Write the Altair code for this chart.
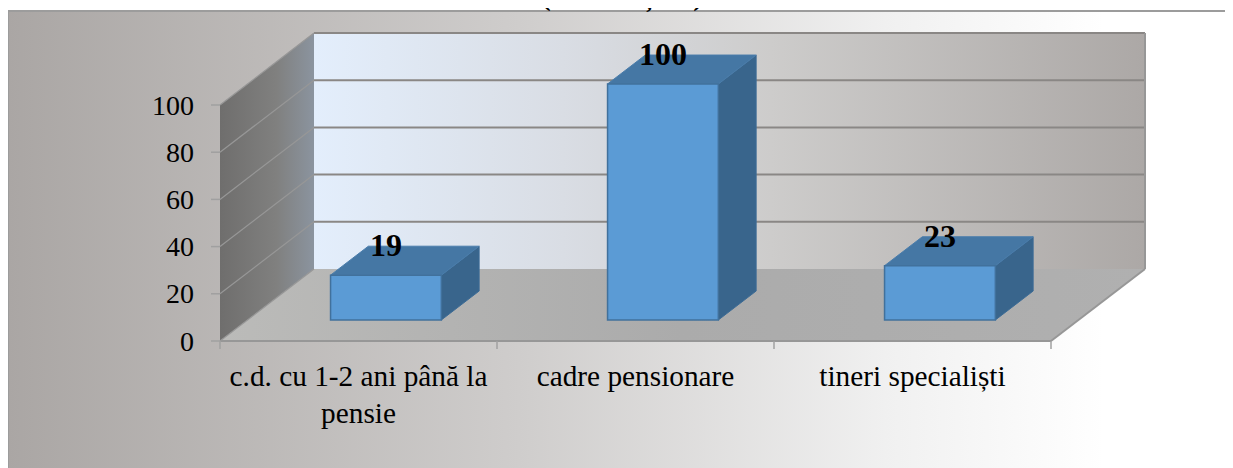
import altair as alt
import pandas as pd

categories = ["c.d. cu 1-2 ani până la\npensie", "cadre pensionare", "tineri specialiști"]
values = [19, 100, 23]
value_ticks = [0, 20, 40, 60, 80, 100]
category_edges = [0, 1, 2, 3]
title_text = "(ciclul I și II)"

# oblique projection of the box: depth d in 0..1 shifts in category / value units
DU, DV = 94 / 277, 72 / 2.36
VMAX = 100
BAR_W = 0.4
D_FRONT, D_BACK = 0.292, 0.694
W, H = 1217, 460
U0, U1 = -212 / 277, (W - 212) / 277
V1, V0 = 333 / 2.36, (333 - H) / 2.36
FRAME_TOP = 330 / 2.36
FONT = "Liberation Serif"

xs = alt.Scale(domain=[U0, U1], range=[0, W], nice=False, zero=False)
ys = alt.Scale(domain=[V0, V1], range=[H, 0], nice=False, zero=False)
X = lambda f: alt.X(f, type="quantitative", scale=xs, axis=None)
Y = lambda f: alt.Y(f, type="quantitative", scale=ys, axis=None)


def grad(*stops):
    return alt.Gradient(
        gradient="linear",
        stops=[alt.GradientStop(color=c, offset=o) for o, c in stops],
        x1=0, x2=1, y1=0, y2=0,
    )


def px(u, d=0.0):
    return u + d * DU


def py(v, d=0.0):
    return v + d * DV


# background frame
frame = alt.Chart(pd.DataFrame({"a": [U0], "b": [U1], "c": [FRAME_TOP], "e": [V0]})).mark_rect(
    color=grad((0, "#aaa6a4"), (0.42, "#cfcdcc"), (0.72, "#f0f0f0"), (0.9, "#ffffff")),
).encode(x=X("a"), x2="b", y=Y("c"), y2="e")
frame_lines = alt.Chart(pd.DataFrame([
    ("t", U0, FRAME_TOP), ("t", U1, FRAME_TOP), ("l", U0, FRAME_TOP), ("l", U0, V0),
], columns=["k", "x", "y"])).mark_line(color="#9c9c9c", strokeWidth=2).encode(
    x=X("x"), y=Y("y"), detail="k:N", order="y:Q")

# back wall
wall_df = pd.DataFrame({"x": [px(0, 1), px(3, 1)], "t": [py(VMAX, 1)] * 2, "b": [py(0, 1)] * 2})
wall = alt.Chart(wall_df).mark_area(
    color=grad((0, "#e3eefc"), (0.3, "#d9dde4"), (0.55, "#cdcccb"), (1, "#aca8a6"))
).encode(x=X("x"), y=Y("t"), y2="b")

# side wall
side_df = pd.DataFrame({"x": [px(0, 0), px(0, 1)], "t": [py(VMAX, 0), py(VMAX, 1)], "b": [py(0, 0), py(0, 1)]})
side = alt.Chart(side_df).mark_area(
    color=grad((0, "#6f6e6d"), (0.6, "#80807f"), (1, "#8b949f"))
).encode(x=X("x"), y=Y("t"), y2="b")

# floor
floor_df = pd.DataFrame({"y": [py(0, 0), py(0, 1)], "l": [px(0, 0), px(0, 1)], "r": [px(3, 0), px(3, 1)]})
floor = alt.Chart(floor_df).mark_area(
    orient="horizontal",
    color=grad((0, "#bbbbb9"), (0.5, "#ababab"), (1, "#b0b0b0")),
).encode(y=Y("y"), x=X("l"), x2="r")

# grid and edges
seg = []
for t in value_ticks[1:]:
    seg.append(("back%d" % t, px(0, 1), py(t, 1)))
    seg.append(("back%d" % t, px(3, 1), py(t, 1)))
backgrid = alt.Chart(pd.DataFrame(seg, columns=["k", "x", "y"])).mark_line(
    color="#8a8785", strokeWidth=2
).encode(x=X("x"), y=Y("y"), detail="k:N")

seg = []
for t in value_ticks:
    seg.append(("side%d" % t, px(0, 0), py(t, 0)))
    seg.append(("side%d" % t, px(0, 1), py(t, 1)))
sidegrid = alt.Chart(pd.DataFrame(seg, columns=["k", "x", "y"])).mark_line(
    color="#979797", strokeWidth=1.2
).encode(x=X("x"), y=Y("y"), detail="k:N")

seg = [
    ("front", px(0), py(0)), ("front", px(3), py(0)),
    ("right", px(3), py(0)), ("right", px(3, 1), py(0, 1)),
    ("wallr", px(3, 1), py(0, 1)), ("wallr", px(3, 1), py(VMAX, 1)),
]
edges = alt.Chart(pd.DataFrame(seg, columns=["k", "x", "y"])).mark_line(
    color="#979797", strokeWidth=2
).encode(x=X("x"), y=Y("y"), detail="k:N", order="y:Q")

# value axis: ticks and labels at the front corner of the box
TICK_U, TICK_V = 9 / 277, 8 / 2.36
LABEL_U = 26 / 277
y_tick_df = pd.DataFrame({"y": value_ticks, "a": [-TICK_U] * 6, "b": [0.0] * 6, "t": [str(v) for v in value_ticks]})
y_ticks = alt.Chart(y_tick_df).mark_rule(color="#a0a0a0", strokeWidth=1.5).encode(
    x=X("a"), x2="b", y=Y("y"))
y_labels = alt.Chart(y_tick_df.assign(a=-LABEL_U)).mark_text(
    font=FONT, fontSize=28, color="#000000", align="right", baseline="middle", dy=1.5,
).encode(x=X("a"), y=Y("y"), text="t:N")

# category axis ticks
x_tick_df = pd.DataFrame({"x": category_edges, "a": [0.0] * 4, "b": [-TICK_V] * 4})
x_ticks = alt.Chart(x_tick_df).mark_rule(color="#a0a0a0", strokeWidth=1.5).encode(
    x=X("x"), y=Y("a"), y2="b")

# bars
centers = [i + 0.5 for i in range(len(values))]
front_df = pd.DataFrame({
    "l": [px(c - BAR_W / 2, D_FRONT) for c in centers],
    "r": [px(c + BAR_W / 2, D_FRONT) for c in centers],
    "b": [py(0, D_FRONT)] * 3,
    "t": [py(v, D_FRONT) for v in values],
})
side_rows, top_rows = [], []
for i, (c, v) in enumerate(zip(centers, values)):
    ur = c + BAR_W / 2
    ul = c - BAR_W / 2
    for d in (D_FRONT, D_BACK):
        side_rows.append((i, px(ur, d), py(v, d), py(0, d)))
        top_rows.append((i, py(v, d), px(ul, d), px(ur, d)))
BAR_STROKE = "#41719c"
bar_side = alt.Chart(pd.DataFrame(side_rows, columns=["i", "x", "t", "b"])).mark_area(
    color="#39658c", stroke="#3d6c96", strokeWidth=1
).encode(x=X("x"), y=Y("t"), y2="b", detail="i:N")
bar_top = alt.Chart(pd.DataFrame(top_rows, columns=["i", "y", "l", "r"])).mark_area(
    orient="horizontal", color="#4577a4", stroke="#4a7dab", strokeWidth=1
).encode(y=Y("y"), x=X("l"), x2="r", detail="i:N")
bar_front = alt.Chart(front_df).mark_rect(
    color="#5b9bd5", stroke=BAR_STROKE, strokeWidth=1.5
).encode(x=X("l"), x2="r", y=Y("t"), y2="b")

# value labels
lab_df = pd.DataFrame({
    "x": [px(c, D_FRONT) for c in centers],
    "y": [py(v, D_BACK) for v in values],
    "t": [str(v) for v in values],
})
bar_labels = alt.Chart(lab_df).mark_text(
    font=FONT, fontSize=32, fontWeight="bold", color="#000000", baseline="middle", align="center"
).encode(x=X("x"), y=Y("y"), text="t:N")

# category labels
cat_df = pd.DataFrame({"x": centers, "y": [-45 / 2.36] * 3, "t": categories})
cat_labels = alt.Chart(cat_df).mark_text(
    font=FONT, fontSize=29.3, color="#000000", baseline="alphabetic", align="center",
    lineBreak="\n", lineHeight=37,
).encode(x=X("x"), y=Y("y"), text="t:N")

# chart title, cut by the top of the page as in the reference
title_df = pd.DataFrame({"x": [(622 - 220) / 277], "y": [336 / 2.36], "t": [title_text]})
title = alt.Chart(title_df).mark_text(
    font=FONT, fontSize=29.3, fontWeight="bold", color="#000000", baseline="alphabetic", align="center"
).encode(x=X("x"), y=Y("y"), text="t:N")

chart = alt.layer(
    frame, frame_lines, wall, side, floor, backgrid, sidegrid, edges, y_ticks, x_ticks,
    bar_side, bar_top, bar_front, bar_labels, y_labels, cat_labels, title,
).properties(
    width=W, height=H, padding=0, autosize=alt.AutoSizeParams(type="none"),
).configure_view(stroke=None)

chart.save("out.html", embed_options={"renderer": "svg", "actions": False})
